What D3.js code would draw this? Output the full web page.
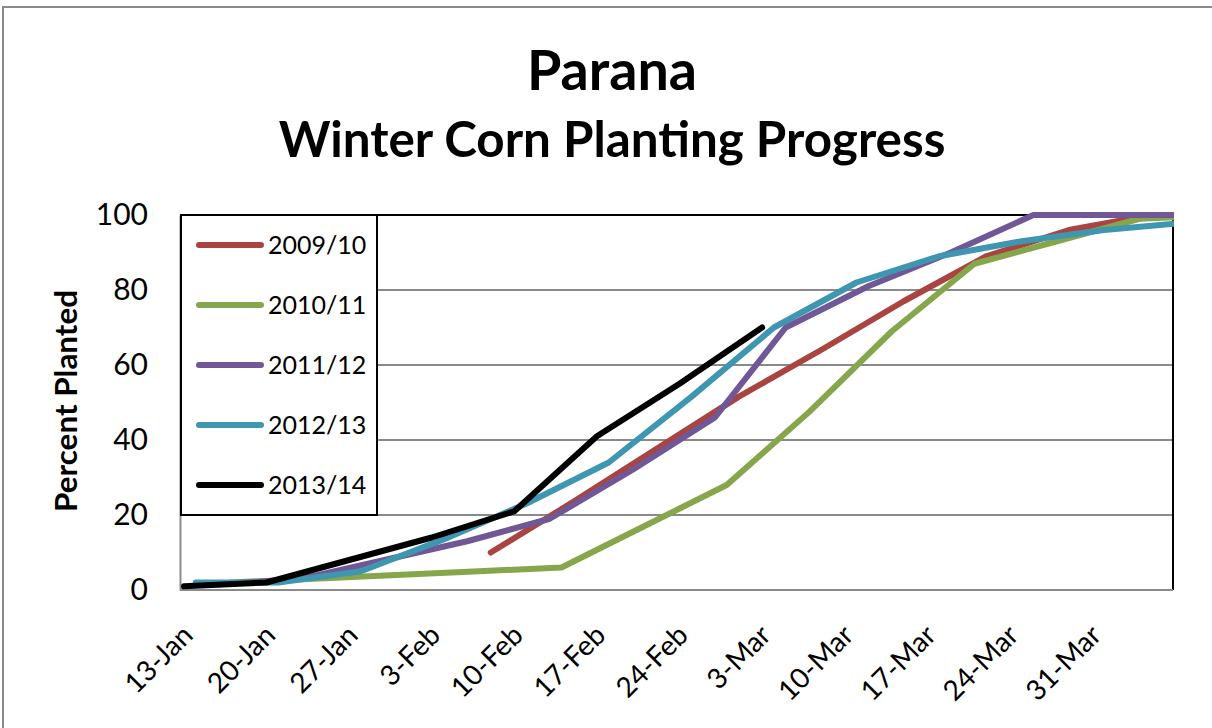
<!DOCTYPE html>
<html><head><meta charset="utf-8">
<script src="https://cdn.jsdelivr.net/npm/d3@7"></script>
<style>body{margin:0;background:#fff;} svg{display:block;}</style>
</head><body><svg id="c" width="1212" height="728"></svg>
<script>
// ---- data ----
const titleMain = "Parana";
const titleSub = "Winter Corn Planting Progress";
const yAxisTitle = "Percent Planted";
const seriesNames = ["2009/10","2010/11","2011/12","2012/13","2013/14"];
const seriesColors = ["#A94441","#86A64C","#705796","#3E96B0","#000000"];
const xTickLabels = ["13-Jan","20-Jan","27-Jan","3-Feb","10-Feb","17-Feb","24-Feb","3-Mar","10-Mar","17-Mar","24-Mar","31-Mar"];
const yTicks = [0,20,40,60,80,100];

const dates2009_10 = ["8-Feb","15-Feb","22-Feb","1-Mar","8-Mar","15-Mar","22-Mar","29-Mar","5-Apr"];
const values2009_10 = [10,23.5,37.5,51.5,64,77,89,96,100];
const dates2010_11 = ["17-Jan","24-Jan","31-Jan","7-Feb","14-Feb","21-Feb","28-Feb","7-Mar","14-Mar","21-Mar","28-Mar","4-Apr","11-Apr"];
const values2010_11 = [2,3,4,5,6,17,28,47.5,69,87,93,99,100];
const dates2011_12 = ["16-Jan","23-Jan","30-Jan","6-Feb","13-Feb","20-Feb","27-Feb","5-Mar","12-Mar","19-Mar","26-Mar","2-Apr","9-Apr"];
const values2011_12 = [1.5,3,8,13,19,32,46,70,81,90,100,100,100];
const dates2012_13 = ["14-Jan","21-Jan","28-Jan","4-Feb","11-Feb","18-Feb","25-Feb","4-Mar","11-Mar","18-Mar","25-Mar","1-Apr","8-Apr"];
const values2012_13 = [2,2,5,13.5,23,34,51.5,70,82,89,93,96,98];
const dates2013_14 = ["13-Jan","20-Jan","27-Jan","3-Feb","10-Feb","17-Feb","24-Feb","3-Mar"];
const values2013_14 = [1,2,8,14,21,41,55,70];

const seriesDates = [dates2009_10, dates2010_11, dates2011_12, dates2012_13, dates2013_14];
const seriesValues = [values2009_10, values2010_11, values2011_12, values2012_13, values2013_14];

// ---- layout ----
const FONT = "Lato, 'Open Sans', sans-serif";
const svg = d3.select("#c");
const plot = {l:180, r:1173, t:215, b:590};
const parseD = d3.timeParse("%d-%b-%Y");
const toDate = s => parseD(s + "-2014");
const x = d3.scaleTime().domain([toDate("13-Jan"), toDate("7-Apr")]).range([plot.l + 4, plot.r + 2]);
const y = d3.scaleLinear().domain([0, 100]).range([plot.b, plot.t]);

function fit(sel, target) {
  const len = sel.node().getComputedTextLength();
  const fs = parseFloat(sel.attr("font-size"));
  sel.attr("font-size", fs * target / len);
}

// background + outer border
svg.append("rect").attr("width", 1212).attr("height", 728).attr("fill", "#fff");
svg.append("rect").attr("x", 3).attr("y", 7).attr("width", 1300).attr("height", 900)
  .attr("fill", "none").attr("stroke", "#8a8a8a").attr("stroke-width", 2);

// titles
const t1 = svg.append("text").attr("x", 612).attr("y", 90).attr("text-anchor", "middle")
  .attr("font-family", FONT).attr("font-weight", "bold").attr("font-size", 50).text(titleMain);
fit(t1, 170);
const t2 = svg.append("text").attr("x", 612).attr("y", 157).attr("text-anchor", "middle")
  .attr("font-family", FONT).attr("font-weight", "bold").attr("font-size", 40).text(titleSub);
fit(t2, 667);

// gridlines
svg.append("g").selectAll("line").data(yTicks.filter(v => v > 0 && v < 100)).join("line")
  .attr("x1", plot.l).attr("x2", plot.r).attr("y1", d => y(d)).attr("y2", d => y(d))
  .attr("stroke", "#8a8a8a").attr("stroke-width", 2);

// plot border (top/right black), axes gray
svg.append("line").attr("x1", plot.l).attr("x2", plot.r).attr("y1", y(100)).attr("y2", y(100))
  .attr("stroke", "#000").attr("stroke-width", 2);
svg.append("line").attr("x1", plot.r).attr("x2", plot.r).attr("y1", y(100) - 1).attr("y2", y(0))
  .attr("stroke", "#000").attr("stroke-width", 2);

// y axis
const yAxis = svg.append("g").attr("transform", `translate(${plot.l},0)`)
  .call(d3.axisLeft(y).tickValues(yTicks).tickSize(0).tickPadding(32));
yAxis.select(".domain").attr("stroke", "#8a8a8a").attr("stroke-width", 2);
yAxis.selectAll("text").attr("font-family", FONT).attr("font-size", 30).attr("fill", "#000");

// x axis
const xAxis = svg.append("g").attr("transform", `translate(0,${plot.b})`)
  .call(d3.axisBottom(x).tickValues(xTickLabels.map(toDate)).tickSize(0).tickFormat(d3.timeFormat("%-d-%b")));
xAxis.select(".domain").attr("d", `M${plot.l},0H${plot.r}`).attr("stroke", "#8a8a8a").attr("stroke-width", 2);
xAxis.selectAll(".tick text")
  .attr("font-family", FONT).attr("font-size", 28).attr("fill", "#000")
  .attr("text-anchor", "end").attr("x", 3).attr("y", 40).attr("dy", "0.35em")
  .attr("transform", "rotate(-45 3 40)");

// y title
const yt = svg.append("text").attr("transform", "translate(66,401) rotate(-90)")
  .attr("text-anchor", "middle").attr("dy", "0.35em")
  .attr("font-family", FONT).attr("font-weight", "bold").attr("font-size", 28).text(yAxisTitle);
fit(yt, 222);

// series
svg.append("clipPath").attr("id", "pc").append("rect")
  .attr("x", plot.l).attr("y", plot.t - 10).attr("width", plot.r - plot.l + 1).attr("height", plot.b - plot.t + 20);
const line = d3.line().x(d => x(d.date)).y(d => y(d.value));
const g = svg.append("g").attr("clip-path", "url(#pc)");
seriesNames.forEach((name, i) => {
  const pts = seriesDates[i].map((d, k) => ({date: toDate(d), value: seriesValues[i][k]}));
  g.append("path").datum(pts).attr("d", line).attr("fill", "none")
    .attr("stroke", seriesColors[i]).attr("stroke-width", 6)
    .attr("stroke-linecap", "round").attr("stroke-linejoin", "round");
});

// legend
const lg = svg.append("g");
lg.append("rect").attr("x", 181).attr("y", 215).attr("width", 196).attr("height", 300)
  .attr("fill", "#fff").attr("stroke", "#000").attr("stroke-width", 2);
seriesNames.forEach((name, i) => {
  const cy = 245 + i * 60;
  lg.append("line").attr("x1", 199).attr("x2", 261).attr("y1", cy).attr("y2", cy)
    .attr("stroke", seriesColors[i]).attr("stroke-width", 6).attr("stroke-linecap", "round");
  lg.append("text").attr("x", 268).attr("y", cy).attr("dy", "0.35em")
    .attr("font-family", FONT).attr("font-size", 25).attr("fill", "#000").text(name);
});
</script></body></html>
